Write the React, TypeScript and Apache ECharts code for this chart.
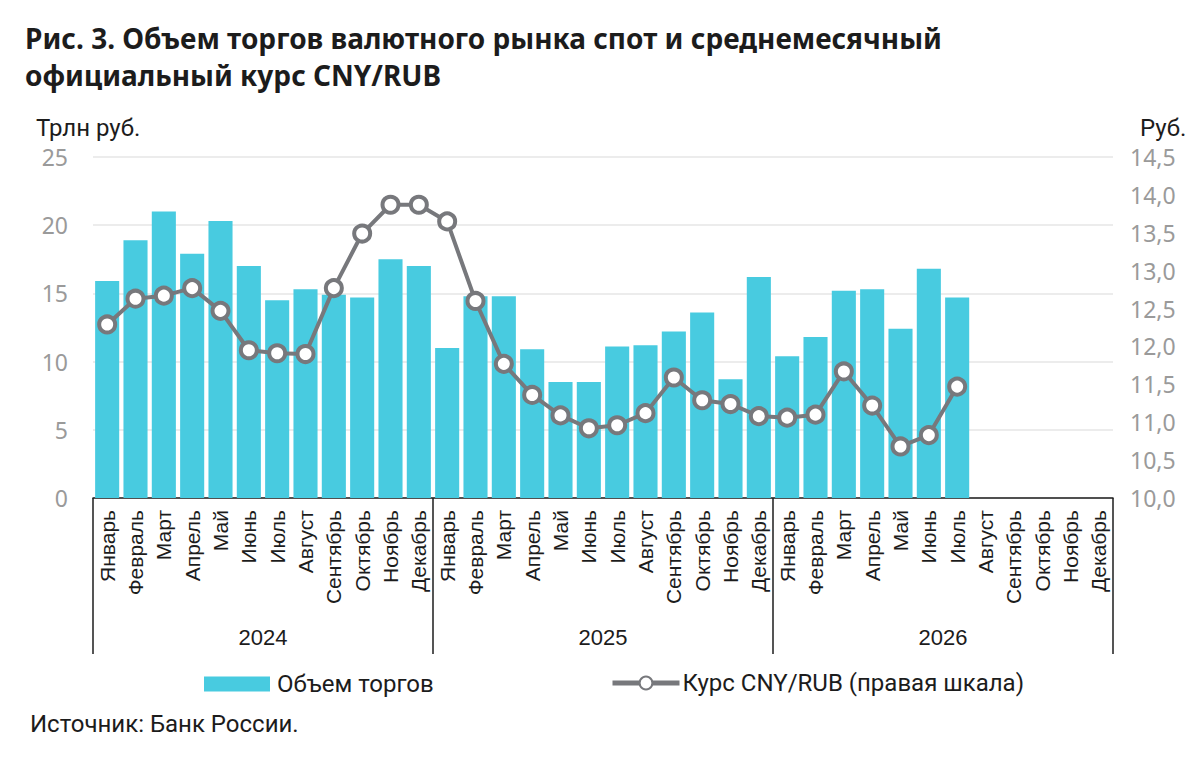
import React, { useEffect, useRef } from "react";
import * as echarts from "echarts";

const monthNames = [
  "Январь", "Февраль", "Март", "Апрель", "Май", "Июнь",
  "Июль", "Август", "Сентябрь", "Октябрь", "Ноябрь", "Декабрь",
];
const years = ["2024", "2025", "2026"];

// one category per month, three years
const categories = years.flatMap((y) => monthNames.map((m) => `${m}|${y}`));

// trading volume, trillion rubles (Jan 2024 - Jul 2026)
const volume = [
  15.9, 18.9, 21.0, 17.9, 20.3, 17.0, 14.5, 15.3, 14.9, 14.7, 17.5, 17.0,
  11.0, 14.8, 14.8, 10.9, 8.5, 8.5, 11.1, 11.2, 12.2, 13.6, 8.7, 16.2,
  10.4, 11.8, 15.2, 15.3, 12.4, 16.8, 14.7,
];

// average monthly official CNY/RUB rate, rubles
const rate = [
  12.29, 12.63, 12.67, 12.77, 12.47, 11.95, 11.91, 11.9, 12.77, 13.49, 13.87, 13.87,
  13.65, 12.6, 11.77, 11.36, 11.09, 10.92, 10.96, 11.12, 11.59, 11.29, 11.24, 11.08,
  11.06, 11.1, 11.67, 11.22, 10.68, 10.83, 11.47,
];

const volumeTicks = { min: 0, max: 25, interval: 5 };
const rateTicks = { min: 10, max: 14.5, interval: 0.5 };

const titleLines = [
  "Рис. 3. Объем торгов валютного рынка спот и среднемесячный",
  "официальный курс CNY/RUB",
];

const barColor = "#48CBE0";
const lineColor = "#77787C";
const labelGray = "#9a9a9a";
const ink = "#1c1c1c";

const App: React.FC = () => {
  const chartRef = useRef<HTMLDivElement>(null);

  useEffect(() => {
    document.body.style.margin = "0";
    const chart = echarts.init(chartRef.current!, null, { renderer: "svg" });

    const smallText = { fontFamily: "Roboto", fontSize: 24, fontWeight: "normal" as const, color: ink };
    const titleText = { fontFamily: "Noto Sans", fontSize: 28, fontWeight: "bold" as const, color: ink };

    const option: echarts.EChartsOption = {
      animation: false,
      backgroundColor: "#fff",
      title: [
        { text: titleLines[0], left: 25, top: 24, padding: 0, textStyle: titleText },
        { text: titleLines[1], left: 25, top: 61, padding: 0, textStyle: titleText },
        { text: "Трлн руб.", left: 31, top: 111, textStyle: smallText },
        { text: "Руб.", left: 1135, top: 111, textStyle: smallText },
        { text: "Источник: Банк России.", left: 25, top: 707, textStyle: smallText },
      ],
      legend: [
        {
          left: 199,
          top: 667,
          itemWidth: 66,
          itemHeight: 15,
          itemGap: 0,
          data: [{ name: "Объем торгов", icon: "rect" }],
          textStyle: { ...smallText, padding: [0, 0, 0, 2] },
        },
        {
          left: 605,
          top: 666,
          itemWidth: 67,
          itemHeight: 16,
          lineStyle: { width: 5 },
          data: ["Курс CNY/RUB (правая шкала)"],
          textStyle: { ...smallText, padding: [0, 0, 0, -2] },
        },
      ],
      grid: { left: 93, right: 87, top: 157, bottom: 283, containLabel: false },
      xAxis: [
        {
          type: "category",
          data: categories,
          boundaryGap: true,
          axisLine: { lineStyle: { color: ink, width: 1.5 } },
          axisTick: { show: false },
          axisLabel: {
            interval: 0,
            rotate: 90,
            margin: 12,
            fontFamily: "Liberation Sans",
            fontSize: 21,
            color: ink,
            formatter: (v: string) => v.split("|")[0],
          },
        },
        {
          type: "category",
          data: years,
          position: "bottom",
          boundaryGap: true,
          axisLine: { show: false },
          axisTick: {
            show: true,
            interval: 0,
            length: 156,
            lineStyle: { color: ink, width: 1.5 },
          },
          axisLabel: {
            margin: 128,
            fontFamily: "Liberation Sans",
            fontSize: 22,
            color: ink,
          },
        },
      ],
      yAxis: [
        {
          type: "value",
          ...volumeTicks,
          axisLine: { show: false },
          axisTick: { show: false },
          axisLabel: {
            margin: 25,
            fontFamily: "Noto Sans",
            fontSize: 23,
            color: labelGray,
          },
          splitLine: { lineStyle: { color: "#e6e6e6", width: 1.5 } },
        },
        {
          type: "value",
          ...rateTicks,
          position: "right",
          axisLine: { show: false },
          axisTick: { show: false },
          splitLine: { show: false },
          axisLabel: {
            margin: 17,
            fontFamily: "Noto Sans",
            fontSize: 23,
            color: labelGray,
            formatter: (v: number) => v.toFixed(1).replace(".", ","),
          },
        },
      ],
      series: [
        {
          name: "Объем торгов",
          type: "bar",
          xAxisIndex: 0,
          yAxisIndex: 0,
          data: volume,
          barCategoryGap: "15%",
          itemStyle: { color: barColor },
        },
        {
          name: "Курс CNY/RUB (правая шкала)",
          type: "line",
          xAxisIndex: 0,
          yAxisIndex: 1,
          data: rate,
          symbol: "circle",
          symbolSize: 16,
          z: 5,
          lineStyle: { color: lineColor, width: 4 },
          itemStyle: { color: "#fff", borderColor: lineColor, borderWidth: 4 },
        },
      ],
    };

    chart.setOption(option);

    return () => {
      chart.dispose();
    };
  }, []);

  return <div ref={chartRef} style={{ width: "1200px", height: "781px" }} />;
};

export default App;
